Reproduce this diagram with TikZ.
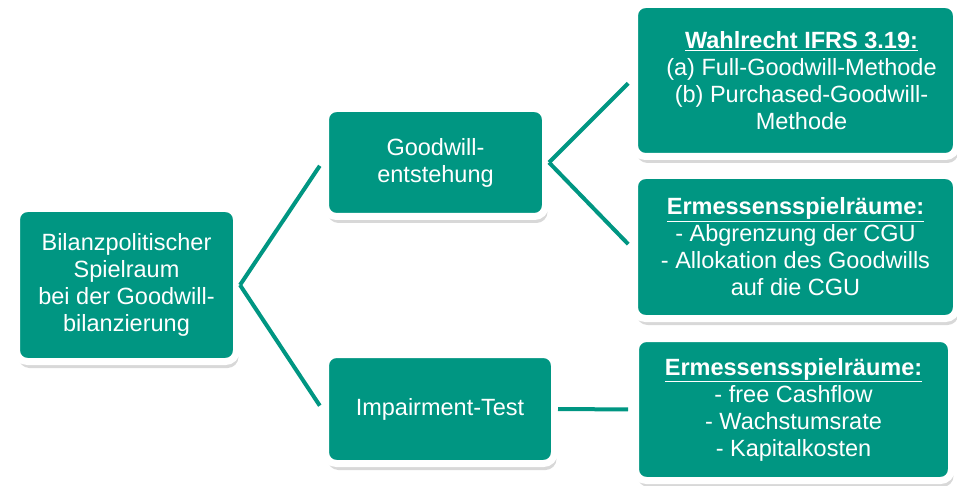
\documentclass[tikz,border=0pt]{standalone}
\usepackage{fontspec}
\setmainfont{Liberation Sans}
\usetikzlibrary{shadows,backgrounds}
\definecolor{tealgreen}{RGB}{0,150,130}
\begin{document}
\begin{tikzpicture}[x=1pt,y=-1pt,
  box/.style={draw=white, line width=7pt, fill=tealgreen, rounded corners=11pt,
    inner sep=0pt, text=white, align=center,
    font=\fontsize{23.5}{27}\selectfont,
    drop shadow={shadow xshift=2pt, shadow yshift=-6.5pt, opacity=0.22, fill=black!70}},
  conn/.style={draw=tealgreen, line width=4pt, shorten >=4pt}]
\useasboundingbox (0,0) rectangle (957,486);
\node[box, minimum width=220pt, minimum height=153pt] (root) at (126.5,285)
  {Bilanzpolitischer\\Spielraum\\bei der Goodwill-\\bilanzierung};
\node[box, minimum width=220pt, minimum height=108pt] (gw) at (435.5,162.5)
  {Goodwill-\\entstehung};
\node[box, minimum width=229pt, minimum height=109pt] (imp) at (440,409)
  {Impairment-Test};
\node[box, minimum width=322pt, minimum height=152pt] (wr) at (795.5,80.5)
  {\hspace*{12pt}\underline{\textbf{Wahlrecht IFRS 3.19:}}\\\hspace*{12pt}(a) Full-Goodwill-Methode\\\hspace*{12pt}(b) Purchased-Goodwill-\\\hspace*{12pt}Methode};
\node[box, minimum width=322pt, minimum height=143pt] (er1) at (795.5,247)
  {\underline{\textbf{Ermessensspielräume:}}\\- Abgrenzung der CGU\\- Allokation des Goodwills\\auf die CGU};
\node[box, minimum width=316pt, minimum height=142pt] (er2) at (793.5,409.5)
  {\underline{\textbf{Ermessensspielräume:}}\\- free Cashflow\\- Wachstumsrate\\- Kapitalkosten};
\draw[conn] (root.east) -- (gw.west);
\draw[conn] (root.east) -- (imp.west);
\draw[conn] (gw.east) -- (wr.west);
\draw[conn] (gw.east) -- (er1.west);
\draw[conn] (imp.east) -- (er2.west);
\end{tikzpicture}
\end{document}
